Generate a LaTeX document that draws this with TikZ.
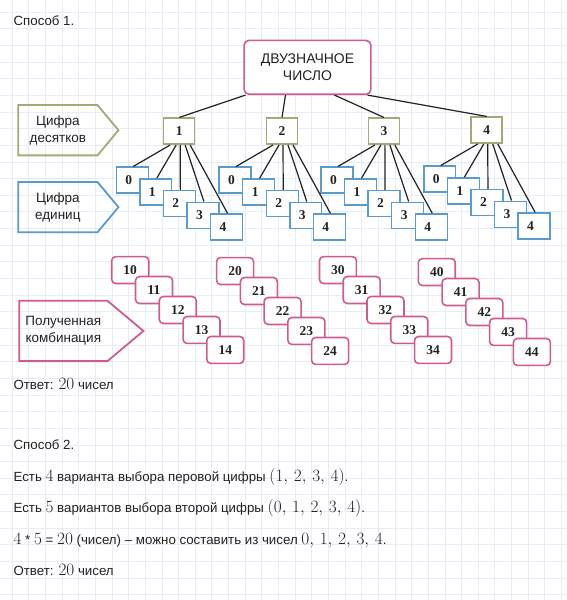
\documentclass[tikz,border=0pt]{standalone}
\usepackage[no-math]{fontspec}
\setmainfont{Liberation Sans}
\newfontfamily\digitfont{Liberation Serif}
\usetikzlibrary{positioning,calc}
\definecolor{cPink}{HTML}{CF5B93}
\definecolor{cOlive}{HTML}{A3AA78}
\definecolor{cBlue}{HTML}{5A9BCB}
\definecolor{cGrid}{HTML}{E4EDF8}
\definecolor{cInk}{HTML}{222222}
\newcommand\mth[1]{{\fontsize{16}{17}\selectfont$#1$}}

\begin{document}
\begin{tikzpicture}[x=1pt,y=-1pt,font=\fontsize{13.3}{17}\selectfont,
    txt/.style={anchor=base west,inner sep=0pt,text=cInk},
    num/.style={fill=white,inner sep=0pt,text=cInk,
                font=\digitfont\bfseries\fontsize{13.5}{14}\selectfont},
    tens/.style={num,draw=cOlive,line width=1.6pt,minimum width=31pt,minimum height=26pt},
    unit/.style={num,draw=cBlue,line width=1.4pt,minimum width=32pt,minimum height=26pt,
                 execute at begin node={\hspace*{-7pt}}},
    comb/.style={num,draw=cPink,line width=1.6pt,rounded corners=4pt,
                 minimum width=37pt,minimum height=27pt},
    tag/.style={inner sep=0pt,align=center,text=cInk,font=\fontsize{13.5}{17}\selectfont},
    link/.style={cInk,line width=1.2pt}]
  % squared paper
  \fill[white] (0,0) rectangle (566,600);
  \foreach \k in {0,...,33}
    \draw[cGrid,line width=0.8pt] (11.7+16.67*\k,0) -- (11.7+16.67*\k,600);
  \foreach \k in {0,...,35}
    \draw[cGrid,line width=0.8pt] (0,11.7+16.67*\k) -- (566,11.7+16.67*\k);
  \useasboundingbox (0,0) rectangle (566,600);

  \node[txt] (way1) at (13,25.5) {Способ 1.};

  % tree
  \node[draw=cPink,line width=1.6pt,rounded corners=5pt,fill=white,minimum width=127pt,
        minimum height=54pt,align=center,inner sep=0pt,text=cInk,
        font=\fontsize{14}{17}\selectfont] (top) at (307.5,67) {ДВУЗНАЧНОЕ\\ЧИСЛО};
  \foreach \i/\x/\y in {1/179/131,2/282/131,3/384/131,4/487/130}
    \node[tens] (t\i) at (\x,\y) {\i};
  \foreach \i/\s in {1/-62,2/-22,3/27,4/60}
    \draw[link] ([xshift=\s pt]top.south) -- (t\i.north);
  \foreach \i in {1,...,4}
    \foreach \k in {0,...,4}
      \node[unit] (u\i\k) at ($(t\i)+(-47+23.6*\k,49+11.7*\k)$) {\k};
  \foreach \i in {1,...,4}
    \foreach \k/\s in {0/-9,1/-3,2/1,3/6,4/11}
      \draw[link] ([xshift=\s pt]t\i.south) -- ([xshift=1pt]u\i\k.north);

  % combinations
  \foreach \i/\x/\y in {1/130/270,2/235/271,3/338/270,4/437/272}
    \foreach \k in {0,...,4}
      \node[comb] (c\i\k) at ($(\x,\y)+(23.8*\k,20*\k)$) {\i\k};

  % side tags
  \node[tag,minimum width=79pt,minimum height=50pt] (tagT) at (57.5,130) {Цифра\\десятков};
  \draw[cOlive,line width=1.8pt] (tagT.north west) -- (tagT.north east)
    -- ($(tagT.east)+(21,0)$) -- (tagT.south east) -- (tagT.south west) -- cycle;
  \node[tag,minimum width=79pt,minimum height=50pt] (tagU) at (57.5,207) {Цифра\\единиц};
  \draw[cBlue,line width=1.8pt] (tagU.north west) -- (tagU.north east)
    -- ($(tagU.east)+(21,0)$) -- (tagU.south east) -- (tagU.south west) -- cycle;
  \node[tag,minimum width=88pt,minimum height=60pt] (tagC) at (63,331) {Полученная\\комбинация};
  \draw[cPink,line width=1.8pt] (tagC.north west) -- (tagC.north east)
    -- ($(tagC.east)+(36,0)$) -- (tagC.south east) -- (tagC.south west) -- cycle;

  \node[txt] (ans1) at (13,390) {Ответ: \mth{20} чисел};

  % second way
  \node[txt] (way2) at (13,450) {Способ 2.};
  \node[txt] (l1) at (13,481.5) {Есть \mth{4} варианта выбора перовой цифры \mth{(1,\,2,\,3,\,4)}.};
  \node[txt] (l2) at (13,513) {Есть \mth{5} вариантов выбора второй цифры \mth{(0,\,1,\,2,\,3,\,4)}.};
  \node[txt] (l3) at (13,544.5) {\mth{4} * \mth{5} = \mth{20} (чисел) – можно составить из чисел \mth{0,\,1,\,2,\,3,\,4}.};
  \node[txt] (ans2) at (13,576) {Ответ: \mth{20} чисел};
\end{tikzpicture}
\end{document}
